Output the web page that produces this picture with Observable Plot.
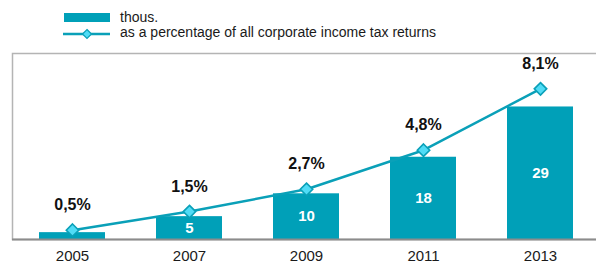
<!DOCTYPE html>
<html><head><meta charset="utf-8">
<script src="https://cdn.jsdelivr.net/npm/d3@7"></script>
<script src="https://cdn.jsdelivr.net/npm/@observablehq/plot@0.6"></script>
<style>
html,body{margin:0;padding:0;overflow:hidden;background:#fff;width:596px;height:264px}
#legend{position:relative;width:596px;height:44px}
#chart{width:600px}
#chart svg{display:block;max-width:none}
</style></head><body>
<div id="legend"></div><div id="chart"></div>
<script>
const years = ["2005", "2007", "2009", "2011", "2013"];
const thous = [1.5, 5, 10, 18, 29];
const pct = [0.5, 1.5, 2.7, 4.8, 8.1];
const seriesNames = ["thous.", "as a percentage of all corporate income tax returns"];

const TEAL = "#00a0b8";
const LINE = "#0aa0b8";
const DIAMOND = "#50dcf6";
const FONT = "'Liberation Sans', Arial, Helvetica, sans-serif";
const K = 4.07; // percent → secondary axis scaling

const data = years.map((y, i) => ({year: y, thous: thous[i], pct: pct[i]}));
const fmtPct = v => d3.format(".1f")(v).replace(".", ",") + "%";

// legend
document.getElementById("legend").innerHTML = `
<svg width="596" height="44" style="position:absolute;left:0;top:0;font-family:${FONT};font-size:14px">
  <rect x="64" y="13" width="46" height="9" fill="${TEAL}"/>
  <line x1="63" x2="110" y1="34" y2="34" stroke="${LINE}" stroke-width="2.5"/>
  <path d="M87,29.5L91.5,34L87,38.5L82.5,34Z" fill="${DIAMOND}" stroke="${LINE}" stroke-width="1.2"/>
  <text x="120" y="22" fill="#1a1a1a">${seriesNames[0]}</text>
  <text x="120" y="37" fill="#1a1a1a">${seriesNames[1]}</text>
</svg>`;

const chart = Plot.plot({
  width: 600,
  height: 220,
  marginTop: 9,
  marginBottom: 25,
  marginLeft: 12,
  marginRight: 0,
  style: {fontFamily: FONT, fontSize: "15px", color: "#1a1a1a", background: "transparent"},
  x: {domain: years, paddingInner: 0.44, paddingOuter: 0.22, label: null, tickSize: 0, tickPadding: 11},
  y: {domain: [0, 40.7], axis: null},
  marks: [
    Plot.frame({stroke: "#b4b4b4", strokeWidth: 1.5}),
    Plot.barY(data, {x: "year", y: "thous", fill: TEAL}),
    Plot.ruleY([0], {stroke: "#8c8c8c", strokeWidth: 2}),
    Plot.line(data, {x: "year", y: d => d.pct * K, stroke: LINE, strokeWidth: 2.5}),
    Plot.dot(data, {x: "year", y: d => d.pct * K, symbol: "diamond2", r: 5.6, fill: DIAMOND, stroke: LINE, strokeWidth: 1.6}),
    Plot.text(data, {x: "year", y: d => d.pct * K, text: d => fmtPct(d.pct), dy: -25, fontWeight: "bold", fontSize: 16, fill: "#111"}),
    Plot.text(data.filter(d => d.thous >= 3), {x: "year", y: d => d.thous / 2, text: d => String(d.thous), fill: "white", fontWeight: "bold", fontSize: 15})
  ]
});
document.getElementById("chart").appendChild(chart);
</script>
</body></html>
